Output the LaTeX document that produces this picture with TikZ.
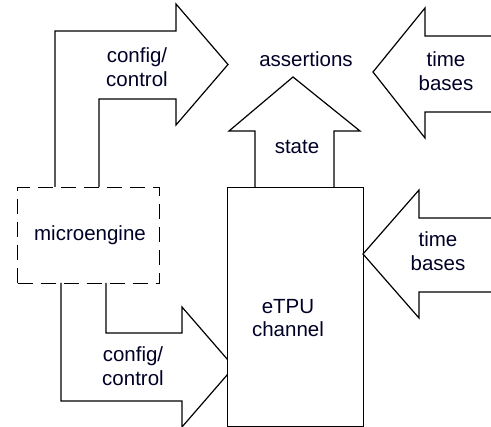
\documentclass[tikz,border=0pt]{standalone}
\usepackage{fontspec}
\setmainfont{Liberation Sans}
\begin{document}
\begin{tikzpicture}[x=1pt,y=-1pt,
  line/.style={draw=black,line width=1.2pt,line join=miter},
  lbl/.style={font=\fontsize{20.5}{23.5}\selectfont,align=center,inner sep=0pt,text=black!85!blue}]
\useasboundingbox (0,0) rectangle (491,427);
\clip (0,0) rectangle (491,427);
% microengine box
\node (micro) [line,dashed,dash pattern=on 15pt off 8pt,minimum width=142pt,minimum height=96pt,anchor=north west,inner sep=0pt] at (17,187) {};
\node (microtxt) [lbl] at (90,235) {microengine};
% top config/control arrow
\coordinate (a1) at (55,187);
\coordinate (a2) at (99,187);
\draw[line] (a1) |- (176,31) -- (176,4) -- (228,64.5) -- (176,125) -- (176,99) -| (a2);
\node (cfg1) [lbl] at (137,67) {config/\\control};
% bottom config/control arrow
\coordinate (b1) at (61,283);
\coordinate (b2) at (106,283);
\draw[line] (b1) |- (182,401) -- (182,427) -- (234,367) -- (182,307) -- (182,333) -| (b2);
\node (cfg2) [lbl] at (133,366) {config/\\control};
% eTPU channel box
\node (etpu) [line,fill=white,minimum width=136pt,minimum height=239pt,anchor=north west,inner sep=0pt] at (227,187) {};
\node (etputxt) [lbl] at (288,318) {eTPU\\channel};
% state arrow
\coordinate (s1) at (255,187);
\coordinate (s2) at (334,187);
\draw[line] (s1) -- (255,131) -- (229,131) -- (293,77) -- (360,131) -- (334,131) -- (s2);
\node (state) [lbl] at (297,147) {state};
\node (assert) [lbl] at (306,59) {assertions};
% top time bases arrow
\draw[line] (491,36) -- (425,36) -- (425,8) -- (373,72) -- (425,138) -- (425,112) -- (491,112);
\node (tb1) [lbl] at (446,71) {time\\bases};
% lower time bases arrow
\draw[line] (491,218) -- (419,218) -- (419,190) -- (363,254) -- (419,318) -- (419,292) -- (491,292);
\node (tb2) [lbl] at (438,251) {time\\bases};
\end{tikzpicture}
\end{document}
